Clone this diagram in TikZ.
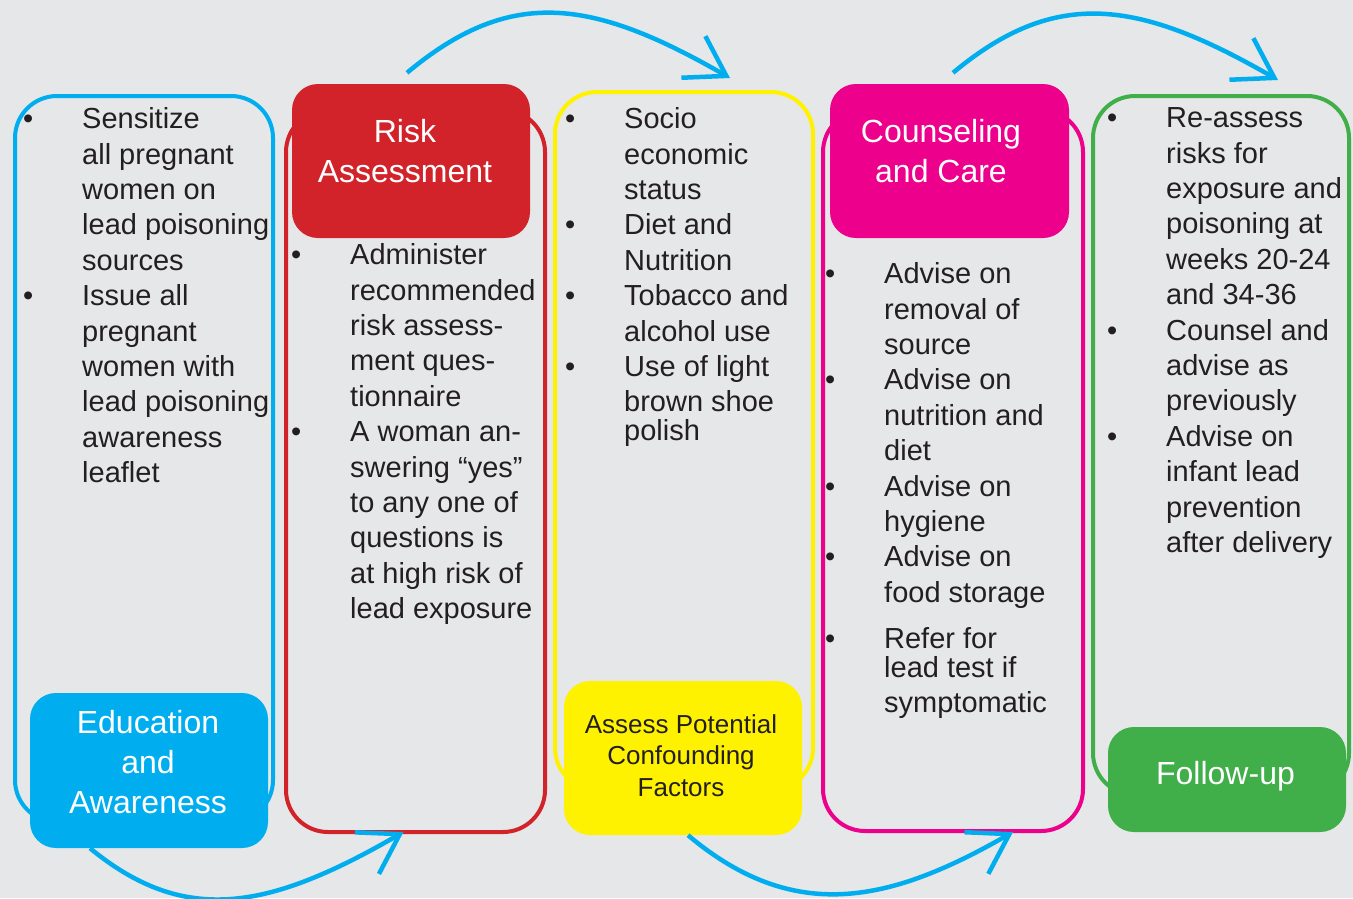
\documentclass[tikz,border=0pt]{standalone}
\usepackage{fontspec}
\setmainfont{Liberation Sans}
\usetikzlibrary{arrows.meta}

\definecolor{bgray}{HTML}{E6E7E8}
\definecolor{cblue}{HTML}{00AEEF}
\definecolor{cred}{HTML}{D2232A}
\definecolor{cyellow}{HTML}{FFF200}
\definecolor{cmagenta}{HTML}{EC008C}
\definecolor{cgreen}{HTML}{40AE49}
\definecolor{ctext}{HTML}{231F20}

\newcommand{\itembul}{\llap{\textbullet\hspace{49pt}}}

\begin{document}
\begin{tikzpicture}[x=1pt,y=-1pt,
  colframe/.style={draw, line width=4pt, rounded corners=42pt, inner sep=0pt},
  headbox/.style={rounded corners=26pt, minimum width=238pt, inner sep=0pt},
  headtext/.style={text=white, align=center, font=\fontsize{32}{40}\selectfont},
  bodytext/.style={text=ctext, align=left, anchor=north west, inner sep=0pt,
    font=\fontsize{29}{35.4}\selectfont},
  flow/.style={draw=cblue, line width=4.5pt,
    -{Straight Barb[length=38pt,width=48pt,line width=4.5pt]}}]

\useasboundingbox (0,0) rectangle (1353,898);
\fill[bgray] (0,0) rectangle (1353,898);

% define the column frames
  \node[colframe, draw=cblue, minimum width=258pt, minimum height=726pt] (col1) at (144,459) {};
  \node[colframe, draw=cred, minimum width=259pt, minimum height=722pt] (col2) at (415.5,471) {};
  \node[colframe, draw=cyellow, minimum width=258pt, minimum height=698pt] (col3) at (684,441) {};
  \node[colframe, draw=cmagenta, minimum width=260pt, minimum height=721pt] (col4) at (953,470.5) {};
  \node[colframe, draw=cgreen, minimum width=256pt, minimum height=699pt] (col5) at (1221,445.5) {};

% define the header boxes
  \node[headbox, fill=cblue, minimum height=155pt] (edu) at (149,770.5) {};
  \node[headbox, fill=cred, minimum height=154pt] (risk) at (411,161) {};
  \node[headbox, fill=cyellow, minimum height=154pt] (confound) at (683,758) {};
  \node[headbox, fill=cmagenta, minimum width=239pt, minimum height=154pt] (care) at (949.5,161) {};
  \node[headbox, fill=cgreen, minimum height=105pt] (follow) at (1227,779.5) {};

  \node[headtext] (edulbl) at ([shift={(-1,-8.5)}]edu.center) {Education\\and\\Awareness};
  \node[headtext] (risklbl) at ([shift={(-6,-10)}]risk.center) {Risk\\Assessment};
  \node[headtext, text=ctext, font=\fontsize{26}{31.5}\selectfont] (confoundlbl)
    at ([shift={(-2,-2.5)}]confound.center) {Assess Potential\\Confounding\\Factors};
  \node[headtext] (carelbl) at ([shift={(-8.5,-10)}]care.center) {Counseling\\and Care};
  \node[headtext] (followlbl) at ([shift={(-1.5,-3)}]follow.center) {Follow-up};

% define the links
  \draw[flow] ([shift={(-4,-11)}]risk.north) .. controls +(103,-86) and +(-139,-80) .. ([shift={(46,-12)}]col3.north);
  \draw[flow] ([shift={(3.5,-11)}]care.north) .. controls +(103,-86) and +(-139,-80) .. ([shift={(57,-14)}]col5.north);
  \draw[flow] ([shift={(-59,0)}]edu.south) .. controls +(95,78) and +(-135,78) .. ([shift={(-12,-2)}]col2.south);
  \draw[flow] ([shift={(5,0)}]confound.south) .. controls +(107,90) and +(-122,70) .. ([shift={(60,-1)}]col4.south);

% define the bullet texts
  \node[bodytext] (edutxt) at (82,107.5)
{\itembul Sensitize\\all pregnant\\women on\\lead poisoning\\sources\\
\itembul Issue all\\pregnant\\women with\\lead poisoning\\awareness\\leaflet};
  \node[bodytext] (risktxt) at (350,243.5)
{\itembul Administer\\recommended\\risk assess-\\ment ques-\\tionnaire\\
\itembul A woman an-\\swering “yes”\\to any one of\\questions is\\at high risk of\\lead exposure};
  \node[bodytext] (confoundtxt) at (624,107.5)
{\itembul Socio\\economic\\status\\\itembul Diet and\\Nutrition\\
\itembul Tobacco and\\alcohol use\\\itembul Use of light\\brown shoe\\[-6.6pt]polish};
  \node[bodytext] (caretxt) at (884,262.5)
{\itembul Advise on\\removal of\\source\\\itembul Advise on\\nutrition and\\diet\\
\itembul Advise on\\hygiene\\\itembul Advise on\\food storage\\[10.6pt]
\itembul Refer for\\[-6.4pt]lead test if\\symptomatic};
  \node[bodytext] (followtxt) at (1166,107.5)
{\itembul Re-assess\\risks for\\exposure and\\poisoning at\\weeks 20-24\\and 34-36\\
\itembul Counsel and\\advise as\\previously\\\itembul Advise on\\infant lead\\prevention\\after delivery};

\end{tikzpicture}
\end{document}
